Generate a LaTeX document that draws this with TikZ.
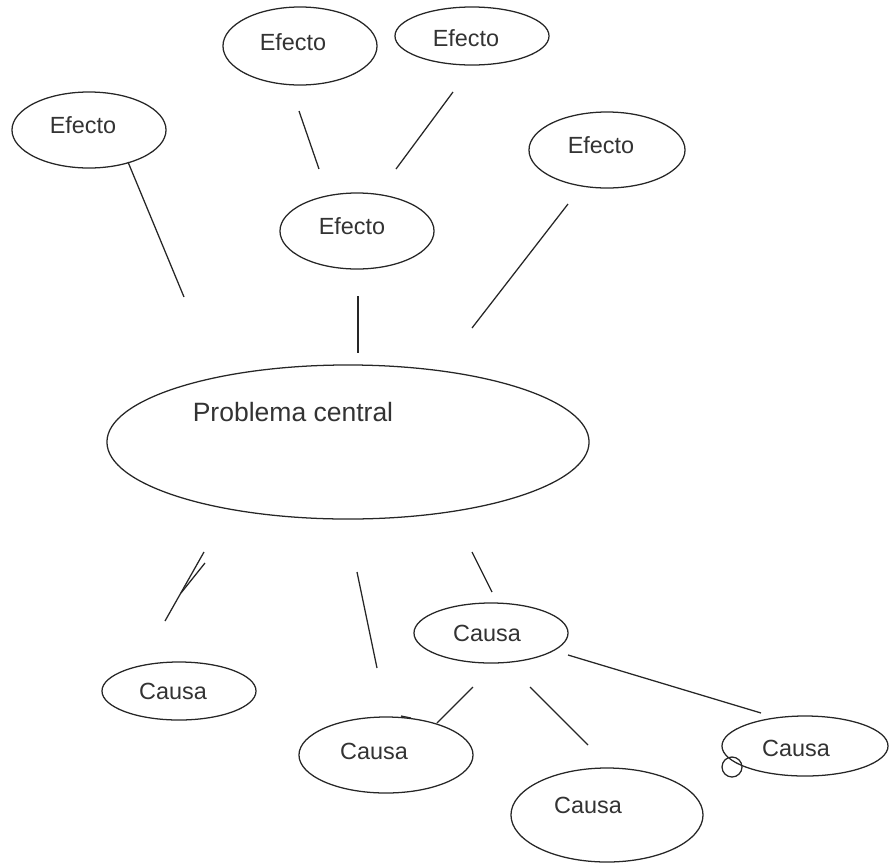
\documentclass[tikz,border=0pt]{standalone}
\usepackage{fontspec}
\setmainfont{Liberation Sans}
\usetikzlibrary{shapes.geometric}

\tikzset{
  oval/.style={ellipse, draw=black!85, line width=0.9pt, inner sep=0pt, outer sep=0pt},
  lbl/.style={inner sep=0pt, text=black!80, font=\fontsize{16.65pt}{20pt}\selectfont},
  biglbl/.style={inner sep=0pt, text=black!80, font=\fontsize{18.85pt}{22pt}\selectfont},
  link/.style={draw=black!85, line width=0.9pt}
}

\begin{document}
\begin{tikzpicture}[x=0.025cm, y=-0.025cm]
        \useasboundingbox (0,0) rectangle (889,863);
        % efectos
        \node[oval, minimum width=3.85cm, minimum height=1.9cm] (ef1) at (89,130) {};
        \node[oval, minimum width=3.85cm, minimum height=1.95cm] (ef2) at (300,46) {};
        \node[oval, minimum width=3.85cm, minimum height=1.45cm] (ef3) at (472,36) {};
        \node[oval, minimum width=3.85cm, minimum height=1.9cm] (ef4) at (357,231) {};
        \node[oval, minimum width=3.9cm, minimum height=1.9cm] (ef5) at (607,150) {};
        \node[lbl] (tef1) at (83,125) {Efecto};
        \node[lbl] (tef2) at (293,42) {Efecto};
        \node[lbl] (tef3) at (466,38) {Efecto};
        \node[lbl] (tef4) at (352,226) {Efecto};
        \node[lbl] (tef5) at (601,145) {Efecto};
        % problema central
        \node[oval, minimum width=12.05cm, minimum height=3.85cm] (pc) at (348,442) {};
        \node[biglbl] (tpc) at (293,412) {Problema central};
        % causas
        \node[oval, minimum width=3.85cm, minimum height=1.5cm] (ca1) at (491,633) {};
        \node[oval, minimum width=3.85cm, minimum height=1.45cm] (ca2) at (179,691) {};
        \node[oval, minimum width=4.35cm, minimum height=1.9cm] (ca3) at (386,755) {};
        \node[oval, minimum width=4.8cm, minimum height=2.35cm] (ca4) at (607,815) {};
        \node[oval, minimum width=4.15cm, minimum height=1.5cm] (ca5) at (805,746) {};
        \node[lbl] (tca1) at (487,633) {Causa};
        \node[lbl] (tca2) at (173,691) {Causa};
        \node[lbl] (tca3) at (374,751) {Causa};
        \node[lbl] (tca4) at (588,805) {Causa};
        \node[lbl] (tca5) at (796,748) {Causa};
        % line ends
        \foreach \n/\p in {l1a/{128,162}, l1b/{184,297}, l2a/{299,111}, l2b/{319,169},
                l3a/{453,92}, l3b/{396,169}, l4a/{568,204}, l4b/{472,328},
                l5a/{358,296}, l5b/{358,353}, l6a/{204,552}, l6b/{165,621},
                l7a/{205,563}, l7b/{181,593}, l8a/{357,572}, l8b/{377,668},
                l9a/{472,552}, l9b/{492,592}, l10a/{473,687}, l10b/{437,723},
                l11a/{530,687}, l11b/{588,745}, l12a/{568,655}, l12b/{761,713},
                b1/{401,716}, b2/{411,718}}
                \coordinate (\n) at (\p);
        \draw[link] (l1a) -- (l1b);
        \draw[link] (l2a) -- (l2b);
        \draw[link] (l3a) -- (l3b);
        \draw[link] (l4a) -- (l4b);
        \draw[link] (l5a) -- (l5b);
        \draw[link] (l6a) -- (l6b);
        \draw[link] (l7a) -- (l7b);
        \draw[link] (l8a) -- (l8b);
        \draw[link] (l9a) -- (l9b);
        \draw[link] (l10a) -- (l10b);
        \draw[link] (l11a) -- (l11b);
        \draw[link] (l12a) -- (l12b);
        \draw[link] (b1) -- (b2);
        % little ring on the last causa
        \draw[link] (732,767) circle (10);
\end{tikzpicture}
\end{document}
